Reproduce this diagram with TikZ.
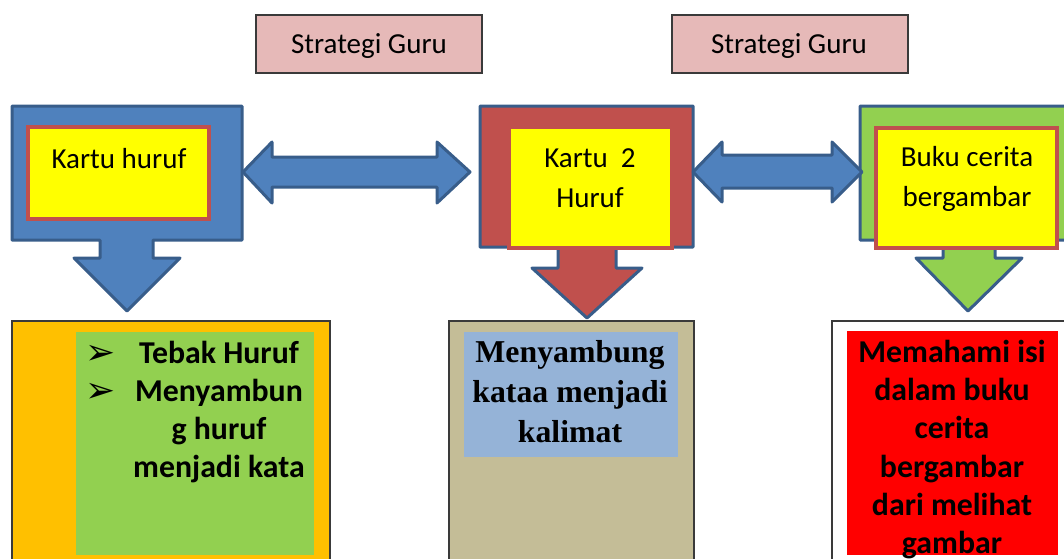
\documentclass[tikz,border=0pt]{standalone}
\usepackage{fontspec}
\setmainfont{Carlito}
\newfontfamily\timesf{Liberation Serif}
\newfontfamily\dejavu{DejaVu Sans}
\definecolor{pinkF}{HTML}{E6B9B8}
\definecolor{blueF}{HTML}{4F81BD}
\definecolor{blueL}{HTML}{385D8A}
\definecolor{redF}{HTML}{C0504D}
\definecolor{greenF}{HTML}{92D050}
\definecolor{yellowF}{HTML}{FFFF00}
\definecolor{orangeF}{HTML}{FFC000}
\definecolor{tanF}{HTML}{C4BD97}
\definecolor{lblueF}{HTML}{95B3D7}
\definecolor{pureRed}{HTML}{FF0000}
\definecolor{boxLine}{HTML}{3A3A3A}
\begin{document}
\begin{tikzpicture}[x=1pt,y=-1pt,
  plainbox/.style={rectangle, inner sep=0pt, outer sep=0pt},
  stratbox/.style={plainbox, draw=boxLine, line width=1.3pt, fill=pinkF},
  yellowbox/.style={plainbox, draw=redF, line width=4pt, fill=yellowF},
  bottombox/.style={plainbox, draw=boxLine, line width=1.3pt},
  innerbox/.style={plainbox},
  blockshape/.style={draw=blueL, line width=3pt, line join=round},
  lbl/.style={anchor=base, inner sep=0pt, font=\fontsize{29}{35}\selectfont},
  boldlbl/.style={anchor=base, inner sep=0pt, font=\fontsize{31.8}{38}\selectfont\bfseries},
  seriflbl/.style={anchor=base, inner sep=0pt, font=\fontsize{31.8}{40}\selectfont\timesf\bfseries},
  bulletlbl/.style={anchor=base, inner sep=0pt, font=\fontsize{36}{40}\selectfont\dejavu}
]
\useasboundingbox (0,0) rectangle (1064,558);
\clip (0,0) rectangle (1064,558);

% top labels
\node[stratbox, minimum width=226pt, minimum height=58pt] (sg1) at (369,44) {};
\node[stratbox, minimum width=236pt, minimum height=58pt] (sg2) at (790,44) {};
\node[lbl] (sg1t) at (369,53) {Strategi Guru};
\node[lbl] (sg2t) at (789,53) {Strategi Guru};

% bottom boxes
\node[bottombox, fill=orangeF, minimum width=318pt, minimum height=279pt] (ob) at (171,460.5) {};
\node[innerbox, fill=greenF, minimum width=238pt, minimum height=223pt] (gb) at (195,443.5) {};
\node[bottombox, fill=tanF, minimum width=245pt, minimum height=279pt] (tb) at (571.5,460.5) {};
\node[innerbox, fill=lblueF, minimum width=214pt, minimum height=125pt] (lb) at (571,394.5) {};
\node[bottombox, fill=white, minimum width=248pt, minimum height=279pt] (wb) at (956,460.5) {};
\node[innerbox, fill=pureRed, minimum width=211pt, minimum height=224pt] (rb) at (952.5,443) {};

% composite shapes: box + down arrow
\draw[blockshape, fill=blueF] (12,106) -- (242,106) -- (242,240) -- (153,240) -- (153,258) -- (180,258) -- (127,311) -- (74,258) -- (100,258) -- (100,240) -- (12,240) -- cycle;
\draw[blockshape, fill=redF] (480,106) -- (693,106) -- (693,247) -- (616,247) -- (616,268) -- (642,268) -- (587,318) -- (532,268) -- (558,268) -- (558,247) -- (480,247) -- cycle;
\draw[blockshape, fill=greenF] (860,106) -- (1080,106) -- (1080,240) -- (995,240) -- (995,258) -- (1022,258) -- (968,311) -- (916,258) -- (943,258) -- (943,240) -- (860,240) -- cycle;

% double arrows
\draw[blockshape, fill=blueF] (243,172) -- (272,142) -- (272,157) -- (437,157) -- (437,142) -- (470,172) -- (437,203) -- (437,187) -- (272,187) -- (272,203) -- cycle;
\draw[blockshape, fill=blueF] (693,172) -- (722,142) -- (722,155) -- (832,155) -- (832,142) -- (862,172) -- (832,202) -- (832,188) -- (722,188) -- (722,202) -- cycle;

% yellow boxes
\node[yellowbox, minimum width=181pt, minimum height=92pt] (y1) at (118.5,173) {};
\node[yellowbox, minimum width=163pt, minimum height=121pt] (y2) at (590.5,187.5) {};
\node[yellowbox, minimum width=181pt, minimum height=120pt] (y3) at (966.5,187.5) {};
\node[lbl] (y1t) at (119,168) {Kartu huruf};
\node[lbl] (y2t1) at (590,167) {Kartu\ \ 2};
\node[lbl] (y2t2) at (590,207) {Huruf};
\node[lbl] (y3t1) at (967,166) {Buku cerita};
\node[lbl] (y3t2) at (967,206) {bergambar};

% left list
\node[bulletlbl] (b1) at (101,364) {➢};
\node[bulletlbl] (b2) at (101,402) {➢};
\node[boldlbl] (g1) at (219,363) {Tebak Huruf};
\node[boldlbl] (g2) at (219,401) {Menyambun};
\node[boldlbl] (g3) at (219,439) {g huruf};
\node[boldlbl] (g4) at (219,477) {menjadi kata};

% middle text
\node[seriflbl] (s1) at (570,362) {Menyambung};
\node[seriflbl] (s2) at (570,402) {kataa menjadi};
\node[seriflbl] (s3) at (570,442) {kalimat};

% right text
\node[boldlbl] (r1) at (952,362) {Memahami isi};
\node[boldlbl] (r2) at (952,400) {dalam buku};
\node[boldlbl] (r3) at (952,438) {cerita};
\node[boldlbl] (r4) at (952,477) {bergambar};
\node[boldlbl] (r5) at (952,515) {dari melihat};
\node[boldlbl] (r6) at (952,553) {gambar};
\end{tikzpicture}
\end{document}
